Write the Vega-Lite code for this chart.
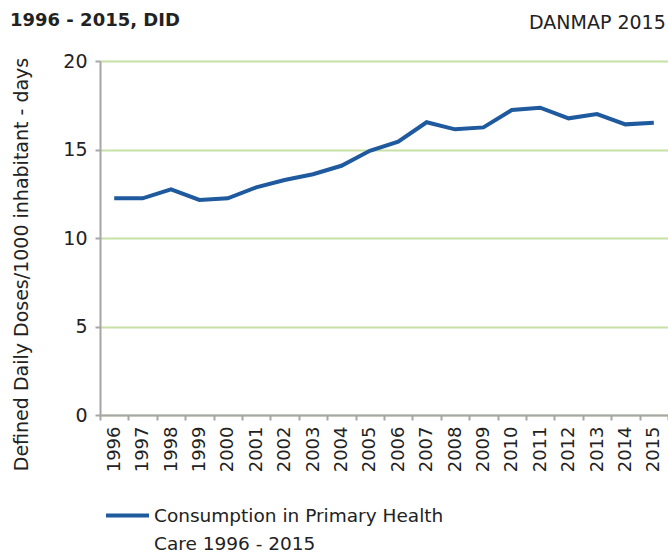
{
  "$schema": "https://vega.github.io/schema/vega-lite/v6.json",
  "autosize": {"type": "none"},
  "width": 568,
  "height": 354,
  "padding": {"left": 100, "top": 61, "right": 0, "bottom": 138},
  "background": "white",
  "config": {
    "view": {"stroke": null},
    "font": "DejaVu Sans",
    "text": {"font": "DejaVu Sans"}
  },
  "title": {
    "text": "1996 - 2015, DID",
    "anchor": "start",
    "frame": "group",
    "dx": -90,
    "offset": -16,
    "font": "DejaVu Sans",
    "fontSize": 18,
    "fontWeight": "bold",
    "color": "#222222"
  },
  "data": {
    "values": [
      {"year": "1996", "ddd": 12.24},
      {"year": "1997", "ddd": 12.24},
      {"year": "1998", "ddd": 12.75},
      {"year": "1999", "ddd": 12.15},
      {"year": "2000", "ddd": 12.24},
      {"year": "2001", "ddd": 12.86},
      {"year": "2002", "ddd": 13.28},
      {"year": "2003", "ddd": 13.6},
      {"year": "2004", "ddd": 14.08},
      {"year": "2005", "ddd": 14.93},
      {"year": "2006", "ddd": 15.44},
      {"year": "2007", "ddd": 16.54},
      {"year": "2008", "ddd": 16.14},
      {"year": "2009", "ddd": 16.25},
      {"year": "2010", "ddd": 17.23},
      {"year": "2011", "ddd": 17.36},
      {"year": "2012", "ddd": 16.76},
      {"year": "2013", "ddd": 17.0},
      {"year": "2014", "ddd": 16.42},
      {"year": "2015", "ddd": 16.51}
    ]
  },
  "layer": [
    {
      "mark": {"type": "line", "strokeWidth": 4, "strokeJoin": "miter"},
      "encoding": {
        "x": {
          "field": "year",
          "type": "ordinal",
          "scale": {"type": "band", "paddingInner": 0, "paddingOuter": 0},
          "axis": {
            "title": null,
            "labelAngle": -90,
            "labelFontSize": 18,
            "labelColor": "#222222",
            "labelPadding": 6,
            "tickBand": "extent",
            "domainColor": "#a6a6a6",
            "domainWidth": 2,
            "tickColor": "#a6a6a6",
            "tickWidth": 2,
            "tickSize": 5,
            "grid": false
          }
        },
        "y": {
          "field": "ddd",
          "type": "quantitative",
          "scale": {"domain": [0, 20], "nice": false},
          "axis": {
            "values": [0, 5, 10, 15, 20],
            "title": "Defined Daily Doses/1000 inhabitant - days",
            "titleFontSize": 19,
            "titleFontWeight": "normal",
            "titleColor": "#222222",
            "titleX": -69,
            "titleY": 203,
            "labelFontSize": 19,
            "labelColor": "#222222",
            "labelPadding": 8,
            "domainColor": "#a6a6a6",
            "domainWidth": 2,
            "tickColor": "#a6a6a6",
            "tickWidth": 2,
            "tickSize": 5,
            "grid": true,
            "gridColor": "#c6e0a6",
            "gridWidth": 2
          }
        },
        "color": {
          "datum": "Consumption in Primary  Health Care 1996 - 2015",
          "type": "nominal",
          "scale": {"range": ["#1f5a9e"]},
          "legend": {
            "title": null,
            "orient": "none",
            "legendX": 4,
            "legendY": 431,
            "symbolType": "stroke",
            "symbolSize": 1849,
            "symbolStrokeWidth": 4,
            "labelFontSize": 18.5,
            "labelColor": "#222222",
            "labelOffset": 3,
            "labelLimit": 400,
            "labelExpr": "['Consumption in Primary  Health', 'Care 1996 - 2015']",
            "encode": {
              "labels": {"update": {"lineHeight": {"value": 28}, "baseline": {"value": "middle"}}}
            }
          }
        }
      }
    },
    {
      "data": {"values": [{"label": "DANMAP 2015"}]},
      "mark": {"type": "text", "align": "right", "baseline": "middle", "fontSize": 19, "color": "#222222", "dx": 12, "dy": -38},
      "encoding": {
        "x": {"datum": "2015", "type": "ordinal"},
        "y": {"datum": 20, "type": "quantitative"},
        "text": {"field": "label"}
      }
    }
  ]
}
